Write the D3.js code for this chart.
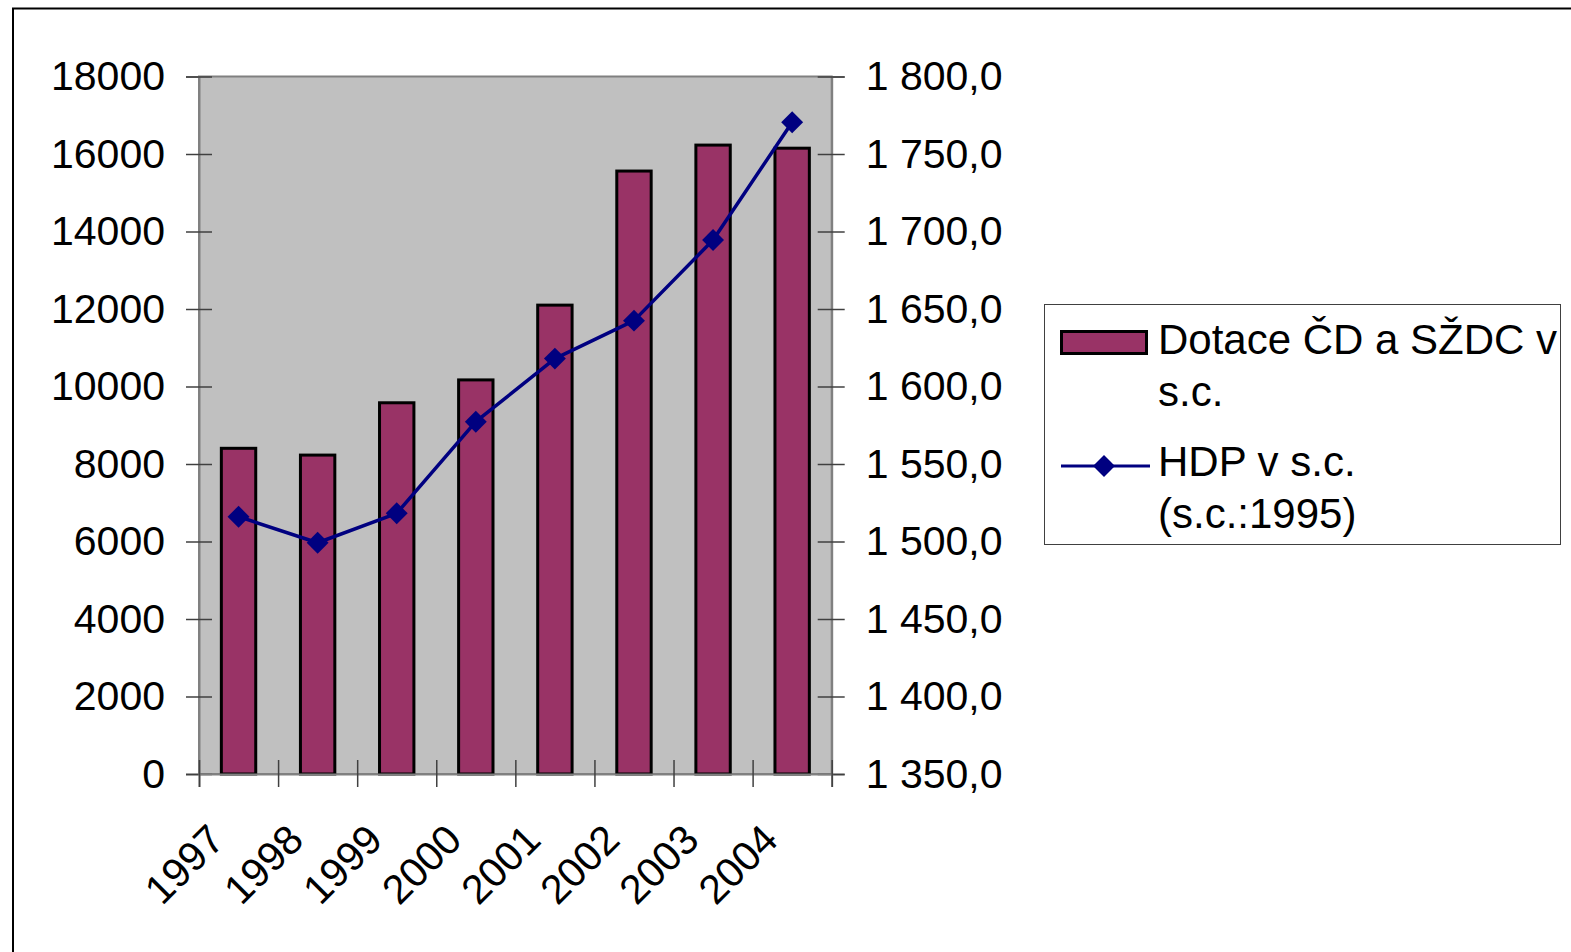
<!DOCTYPE html>
<html>
<head>
<meta charset="utf-8">
<script src="https://cdn.jsdelivr.net/npm/d3@7"></script>
<style>
  html, body { margin: 0; padding: 0; background: #ffffff; }
  svg { display: block; }
  text { font-family: "Liberation Sans", Arial, sans-serif; fill: #000; }
</style>
</head>
<body>
<svg id="chart" width="1571" height="952"></svg>
<script>
// Years on the category axis
const years = ["1997", "1998", "1999", "2000", "2001", "2002", "2003", "2004"];
// Subsidies to ČD and SŽDC, constant prices (left axis)
const dotace = [8405, 8230, 9580, 10170, 12100, 15560, 16230, 16150];
// GDP, constant prices of 1995 (right axis)
const hdp = [1516.0, 1499.2, 1518.2, 1577.3, 1618.0, 1642.5, 1694.5, 1770.5];
// Axis ticks
const leftTicks = [0, 2000, 4000, 6000, 8000, 10000, 12000, 14000, 16000, 18000];
const rightTicks = [1350, 1400, 1450, 1500, 1550, 1600, 1650, 1700, 1750, 1800];
// Legend entries
const legendBar = ["Dotace ČD a SŽDC v", "s.c."];
const legendLine = ["HDP v s.c.", "(s.c.:1995)"];

const svg = d3.select("#chart");
const W = 1571, H = 952;
const plot = { left: 199, right: 831.7, top: 76.5, bottom: 774 };
const fontSize = 41;
const legendFontSize = 42;

// Outer frame (continues past the right and bottom edges)
svg.append("rect")
  .attr("x", 13).attr("y", 8.5)
  .attr("width", W).attr("height", H)
  .attr("fill", "none").attr("stroke", "#000").attr("stroke-width", 2);

// Scales
const x = d3.scaleBand().domain(years).range([plot.left, plot.right]);
const xEdges = d3.scaleLinear().domain([0, years.length]).range([plot.left, plot.right]);
const yL = d3.scaleLinear().domain([0, 18000]).range([plot.bottom, plot.top]);
const yR = d3.scaleLinear().domain([1350, 1800]).range([plot.bottom, plot.top]);

const csLocale = d3.formatLocale({ decimal: ",", thousands: "\u00a0", grouping: [3], currency: ["", " Kč"] });
const fmtR = csLocale.format(",.1f");

// Plot area background and frame
svg.append("rect")
  .attr("x", plot.left).attr("y", plot.top)
  .attr("width", plot.right - plot.left).attr("height", plot.bottom - plot.top)
  .attr("fill", "#c0c0c0").attr("stroke", "#808080").attr("stroke-width", 2);

// Bars
const barW = x.bandwidth() / 2.3;
svg.append("g").selectAll("rect")
  .data(years)
  .join("rect")
  .attr("x", (d) => x(d) + (x.bandwidth() - barW) / 2)
  .attr("y", (d, i) => yL(dotace[i]))
  .attr("width", barW)
  .attr("height", (d, i) => yL(0) - yL(dotace[i]))
  .attr("fill", "#993366")
  .attr("stroke", "#000")
  .attr("stroke-width", 3);

// Left axis
const gL = svg.append("g")
  .attr("transform", `translate(${plot.left},0)`)
  .call(d3.axisLeft(yL).tickValues(leftTicks).tickFormat(d3.format("d")).tickSize(13).tickPadding(21));
gL.select(".domain").attr("stroke", "#808080").attr("stroke-width", 2);
gL.selectAll(".tick line").attr("x1", 13).attr("stroke", "#404040").attr("stroke-width", 1.5);
gL.selectAll(".tick text").attr("font-size", fontSize).attr("font-family", "Liberation Sans, Arial, sans-serif").attr("fill", "#000");

// Right axis
const gR = svg.append("g")
  .attr("transform", `translate(${plot.right},0)`)
  .call(d3.axisRight(yR).tickValues(rightTicks).tickFormat(fmtR).tickSize(13).tickPadding(21));
gR.select(".domain").attr("stroke", "#808080").attr("stroke-width", 2);
gR.selectAll(".tick line").attr("x1", -14).attr("stroke", "#404040").attr("stroke-width", 1.5);
gR.selectAll(".tick text").attr("font-size", fontSize).attr("font-family", "Liberation Sans, Arial, sans-serif").attr("fill", "#000");

// Bottom axis: tick marks at category boundaries
const gB = svg.append("g")
  .attr("transform", `translate(0,${plot.bottom})`)
  .call(d3.axisBottom(xEdges).tickValues(d3.range(years.length + 1)).tickFormat("").tickSize(13));
gB.select(".domain").attr("stroke", "#808080").attr("stroke-width", 2);
gB.selectAll(".tick line").attr("y1", -14).attr("stroke", "#404040").attr("stroke-width", 1.5);

// Bottom axis: rotated year labels
const gBL = svg.append("g")
  .attr("transform", `translate(0,${plot.bottom})`)
  .call(d3.axisBottom(x).tickSize(0));
gBL.select(".domain").remove();
gBL.selectAll(".tick text")
  .attr("font-size", fontSize)
  .attr("font-family", "Liberation Sans, Arial, sans-serif")
  .attr("fill", "#000")
  .attr("text-anchor", "end")
  .attr("dy", null)
  .attr("y", 0)
  .attr("transform", "translate(-12,68) rotate(-45)");

// GDP line with diamond markers
const line = d3.line()
  .x((d, i) => x(years[i]) + x.bandwidth() / 2)
  .y((d) => yR(d));
svg.append("path")
  .datum(hdp)
  .attr("d", line)
  .attr("fill", "none")
  .attr("stroke", "#000080")
  .attr("stroke-width", 3.5)
  .attr("stroke-linejoin", "round");

const diamond = d3.symbol().type(d3.symbolSquare).size(240);
svg.append("g").selectAll("path")
  .data(hdp)
  .join("path")
  .attr("d", diamond)
  .attr("transform", (d, i) => `translate(${x(years[i]) + x.bandwidth() / 2},${yR(d)}) rotate(45)`)
  .attr("fill", "#000080");

// Legend
const lg = svg.append("g");
lg.append("rect")
  .attr("x", 1044.5).attr("y", 304.5)
  .attr("width", 516).attr("height", 240)
  .attr("fill", "#fff").attr("stroke", "#404040").attr("stroke-width", 1);

lg.append("rect")
  .attr("x", 1061.5).attr("y", 331.5)
  .attr("width", 85).attr("height", 22)
  .attr("fill", "#993366").attr("stroke", "#000").attr("stroke-width", 3);

const lineH = 52;
lg.append("text")
  .attr("x", 1158).attr("y", 354)
  .attr("font-size", legendFontSize)
  .selectAll("tspan")
  .data(legendBar)
  .join("tspan")
  .attr("x", 1158)
  .attr("dy", (d, i) => (i === 0 ? 0 : lineH))
  .text((d) => d);

lg.append("line")
  .attr("x1", 1061).attr("x2", 1150)
  .attr("y1", 466).attr("y2", 466)
  .attr("stroke", "#000080").attr("stroke-width", 3);
lg.append("path")
  .attr("d", diamond)
  .attr("transform", "translate(1104,466) rotate(45)")
  .attr("fill", "#000080");

lg.append("text")
  .attr("x", 1158).attr("y", 476)
  .attr("font-size", legendFontSize)
  .selectAll("tspan")
  .data(legendLine)
  .join("tspan")
  .attr("x", 1158)
  .attr("dy", (d, i) => (i === 0 ? 0 : lineH))
  .text((d) => d);
</script>
</body>
</html>
